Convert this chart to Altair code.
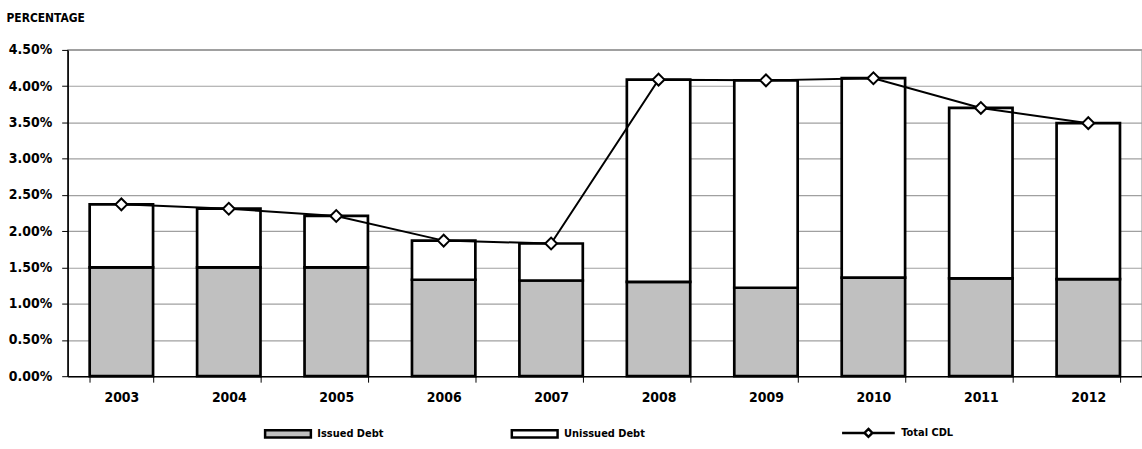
import altair as alt
import pandas as pd

years = ["2003", "2004", "2005", "2006", "2007", "2008", "2009", "2010", "2011", "2012"]
total_cdl = [0.0237, 0.0231, 0.0221, 0.0187, 0.0183, 0.0409, 0.0408, 0.0411, 0.0370, 0.0349]
issued = [0.0150, 0.0150, 0.0150, 0.0133, 0.0132, 0.0130, 0.0122, 0.0136, 0.0135, 0.0134]
unissued = [round(t - i, 5) for t, i in zip(total_cdl, issued)]
y_ticks = [0.0, 0.005, 0.01, 0.015, 0.02, 0.025, 0.03, 0.035, 0.04, 0.045]

FONT = "DejaVu Sans Condensed, sans-serif"

bars = pd.DataFrame(
    [{"year": y, "category": "Issued Debt", "value": v, "order": 0} for y, v in zip(years, issued)]
    + [{"year": y, "category": "Unissued Debt", "value": v, "order": 1} for y, v in zip(years, unissued)]
)
line = pd.DataFrame({"year": years, "total": total_cdl, "series": ["Total CDL"] * len(years)})

x_axis = alt.Axis(
    title=None, labelAngle=0, tickBand="extent", tickSize=6, tickColor="black",
    domainColor="black", domainWidth=1.5, labelFontSize=14, labelFontWeight="bold",
    labelColor="black", labelPadding=8, grid=False,
)
y_axis = alt.Axis(
    values=y_ticks, format=".2%", title="PERCENTAGE", titleAngle=0,
    titleX=-62, titleY=-29, titleAlign="left", titleBaseline="alphabetic",
    titleFontSize=12, titleFontWeight="bold", titleColor="black",
    labelFontSize=14, labelFontWeight="bold", labelColor="black", labelPadding=10,
    tickSize=6, tickColor="black", domainColor="black", domainWidth=1.5,
    gridColor="#a0a0a0", gridWidth=1.2, labelOverlap=False,
)
x_scale = alt.Scale(paddingInner=0.41, paddingOuter=0.205)
y_scale = alt.Scale(domain=[0, 0.045], nice=False, zero=True)

bar_layer = alt.Chart(bars).mark_bar(stroke="black", strokeWidth=2.7).encode(
    x=alt.X("year:O", scale=x_scale, axis=x_axis),
    y=alt.Y("value:Q", stack="zero", scale=y_scale, axis=y_axis),
    fill=alt.Fill(
        "category:N",
        scale=alt.Scale(domain=["Issued Debt", "Unissued Debt"], range=["#c0c0c0", "#ffffff"]),
        legend=alt.Legend(
            title=None, orient="none", legendX=197, legendY=361, columns=2,
            symbolType="M-1,-0.16L1,-0.16L1,0.16L-1,0.16Z", symbolSize=2116,
            symbolStrokeColor="black", symbolStrokeWidth=2.5, symbolOpacity=1,
            labelFontSize=11, labelFontWeight="bold", labelColor="black",
            labelOffset=5, columnPadding=123,
        ),
    ),
    order=alt.Order("order:Q"),
)

line_layer = alt.Chart(line).mark_line(strokeWidth=2).encode(
    x=alt.X("year:O", scale=x_scale, axis=x_axis),
    y=alt.Y("total:Q", scale=y_scale, axis=y_axis),
    stroke=alt.Stroke(
        "series:N",
        scale=alt.Scale(domain=["Total CDL"], range=["black"]),
        legend=alt.Legend(
            title=None, orient="none", legendX=777, legendY=357,
            symbolType="M-1,0L-0.15,0M0.15,0L1,0M0,-0.15L0.15,0L0,0.15L-0.15,0Z",
            symbolSize=2809, symbolStrokeWidth=2.5, symbolFillColor="white",
            labelFontSize=11, labelFontWeight="bold", labelColor="black", labelOffset=5,
        ),
    ),
)

point_layer = alt.Chart(line).mark_point(
    shape="diamond", filled=True, fill="white", stroke="black", strokeWidth=2, size=140, opacity=1
).encode(
    x=alt.X("year:O", scale=x_scale, axis=x_axis),
    y=alt.Y("total:Q", scale=y_scale, axis=y_axis),
)

chart = (
    alt.layer(bar_layer, line_layer, point_layer)
    .properties(
        width=1080, height=328,
        autosize=alt.AutoSizeParams(type="none"),
        padding={"left": 68, "top": 49, "right": 0, "bottom": 72},
        background="white",
    )
    .configure(font=FONT)
    .configure_view(stroke="#444444", strokeWidth=1.2)
)

chart.save("out.html", embed_options={"renderer": "svg", "actions": False})
